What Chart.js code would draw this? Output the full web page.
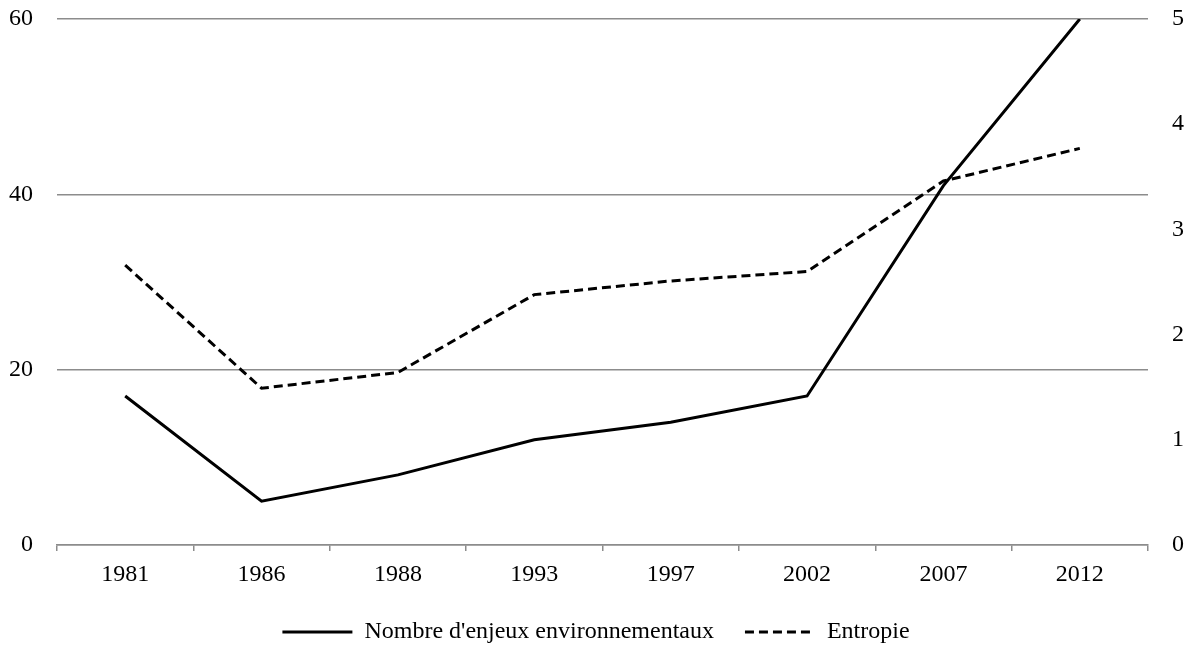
<!DOCTYPE html>
<html lang="fr">
<head>
<meta charset="UTF-8">
<title>Enjeux environnementaux et entropie</title>
<script src="https://cdn.jsdelivr.net/npm/chart.js"></script>
<style>
  html, body { margin: 0; padding: 0; background: #fff; }
  #chart { display: block; }
</style>
</head>
<body>
<canvas id="chart" width="1192" height="649"></canvas>
<script>
  // values
  const years = ['1981', '1986', '1988', '1993', '1997', '2002', '2007', '2012'];
  const enjeux = [17, 5, 8, 12, 14, 17, 41, 60];
  const entropie = [2.66, 1.49, 1.64, 2.38, 2.51, 2.6, 3.46, 3.77];
  const leftTicks = [0, 20, 40, 60];
  const rightTicks = [0, 1, 2, 3, 4, 5];

  const font = { family: "'Liberation Serif', 'DejaVu Serif', serif", size: 24 };
  const grey = '#8c8c8c';
  const baseLabels = Chart.defaults.plugins.legend.labels.generateLabels;

  new Chart(document.getElementById('chart'), {
    type: 'line',
    data: {
      labels: years,
      datasets: [{
        label: "Nombre d'enjeux environnementaux",
        data: enjeux,
        yAxisID: 'y',
        borderColor: '#000',
        backgroundColor: 'transparent',
        borderWidth: 3,
        pointRadius: 0,
        tension: 0
      }, {
        label: 'Entropie',
        data: entropie,
        yAxisID: 'y1',
        borderColor: '#000',
        backgroundColor: 'transparent',
        borderWidth: 3,
        borderDash: [9, 5],
        pointRadius: 0,
        tension: 0
      }]
    },
    options: {
      responsive: false,
      animation: false,
      layout: { padding: { top: 19, left: 0, right: 0, bottom: -5 } },
      plugins: {
        tooltip: { enabled: false },
        legend: {
          position: 'bottom',
          labels: {
            color: '#000',
            font: font,
            usePointStyle: true,
            pointStyle: 'line',
            pointStyleWidth: 70,
            padding: 31,
            // keep the dataset's dash and width in the legend sample
            generateLabels: chart => baseLabels(chart).map((l, i) => ({
              ...l,
              lineWidth: 3,
              strokeStyle: '#000',
              lineDash: chart.data.datasets[i].borderDash || []
            }))
          }
        }
      },
      scales: {
        x: {
          offset: true,
          afterFit: s => { s.height = 44; },
          grid: { drawOnChartArea: false, offset: true, tickLength: 6, color: grey, lineWidth: 1.5 },
          border: { color: grey, width: 1.5 },
          ticks: { color: '#000', font: font, padding: 9 }
        },
        y: {
          position: 'left',
          min: 0, max: 60,
          afterBuildTicks: s => { s.ticks = leftTicks.map(v => ({ value: v })); },
          afterFit: s => { s.width = 57; s.paddingTop = 0; s.paddingBottom = 0; },
          grid: { color: grey, lineWidth: 1.5, drawTicks: false },
          border: { display: false },
          ticks: { color: '#000', font: font, padding: 24 }
        },
        y1: {
          position: 'right',
          min: 0, max: 5,
          afterBuildTicks: s => { s.ticks = rightTicks.map(v => ({ value: v })); },
          afterFit: s => { s.width = 44; s.paddingTop = 0; s.paddingBottom = 0; },
          grid: { drawOnChartArea: false, drawTicks: false },
          border: { display: false },
          ticks: { color: '#000', font: font, padding: 24 }
        }
      }
    }
  });
</script>
</body>
</html>
